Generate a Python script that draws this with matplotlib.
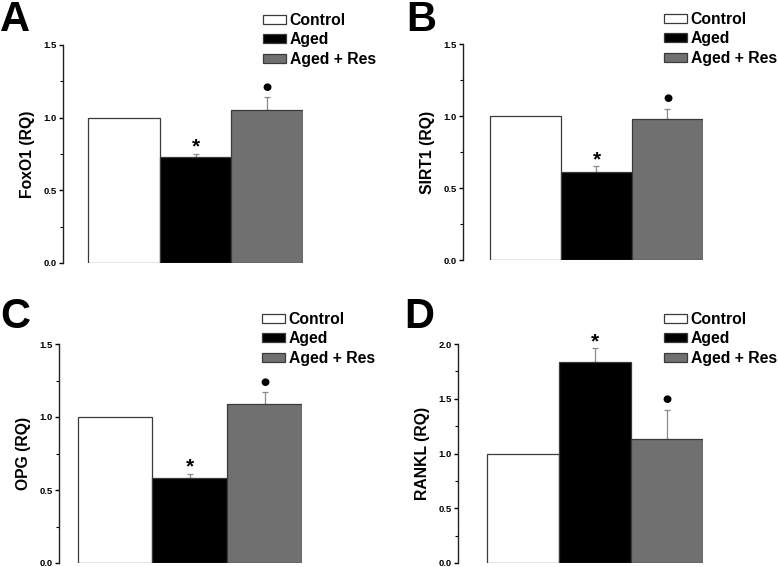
import numpy as np
import matplotlib.pyplot as plt
from matplotlib.patches import Patch
from matplotlib.ticker import MultipleLocator

plt.rcParams['font.family'] = ['Liberation Sans', 'DejaVu Sans']
plt.rcParams['font.weight'] = 'bold'

# Data
groups = ["Control", "Aged", "Aged + Res"]
panels = ["A", "B", "C", "D"]
genes = ["FoxO1 (RQ)", "SIRT1 (RQ)", "OPG (RQ)", "RANKL (RQ)"]
foxo1 = [1.0, 0.73, 1.05]
foxo1_err = [0.0, 0.02, 0.09]
sirt1 = [1.0, 0.61, 0.98]
sirt1_err = [0.0, 0.04, 0.07]
opg = [1.0, 0.58, 1.09]
opg_err = [0.0, 0.03, 0.08]
rankl = [1.0, 1.84, 1.13]
rankl_err = [0.0, 0.12, 0.27]
marks = ["", "*", "\u25CF"]
ymax = [1.5, 1.5, 1.5, 2.0]

values = [foxo1, sirt1, opg, rankl]
errors = [foxo1_err, sirt1_err, opg_err, rankl_err]

colors = ["white", "black", "#707070"]
W, H = 778, 567

# axes boxes in pixels: left, right, top, bottom; gap = left offset of first bar (bar units)
boxes = [(63, 303, 45, 263), (463, 703, 44, 260), (59, 302, 344, 563), (458, 703, 344, 563)]
gaps = [0.35, 0.38, 0.25, 0.41]
legend_xy = [(263, 13), (664, 12), (262, 312), (664, 312)]
letter_xy = [(0, 31), (406, 31), (0, 328), (404, 328)]

fig = plt.figure(figsize=(W / 100, H / 100), dpi=100)

for i in range(4):
    l, r, t, b = boxes[i]
    ax = fig.add_axes([l / W, 1 - b / H, (r - l) / W, (b - t) / H])
    x = np.arange(3)
    ax.bar(x, values[i], width=1.0, align="edge", color=colors,
           edgecolor="#3a3a3a", linewidth=0.9, zorder=2)
    ax.errorbar(x[1:] + 0.5, values[i][1:], yerr=[[0, 0], errors[i][1:]],
                fmt="none", ecolor="#8a8a8a", elinewidth=0.9, capsize=2,
                capthick=0.9, zorder=1)
    top = np.array(values[i]) + np.array(errors[i])
    # significance star above aged, dot above aged + res
    ax.annotate(marks[1], (1.5, top[1]), xytext=(0, 1), textcoords="offset points",
                ha="center", va="baseline", fontsize=15, fontweight="bold")
    ax.annotate(marks[2], (2.5, top[2]), xytext=(0, 7.5), textcoords="offset points",
                ha="center", va="center", fontsize=7.5, family="DejaVu Sans")
    ax.set_xlim(-gaps[i], 3)
    ax.set_ylim(0, ymax[i])
    ax.yaxis.set_major_locator(MultipleLocator(0.5))
    ax.yaxis.set_minor_locator(MultipleLocator(0.25))
    ax.set_yticklabels([f"{v:.1f}" for v in ax.get_yticks()])
    ax.tick_params(axis="y", which="major", length=3, width=1, labelsize=6.8, pad=1.5)
    ax.tick_params(axis="y", which="minor", length=2, width=0.8)
    ax.set_xticks([])
    for s in ["top", "right", "bottom"]:
        ax.spines[s].set_visible(False)
    ax.spines["left"].set_linewidth(1.0)
    ax.spines["left"].set_color("#202020")
    ax.set_ylabel(genes[i], fontsize=11.3, fontweight="bold", labelpad=6)

    handles = [Patch(facecolor=c, edgecolor="#3a3a3a", linewidth=0.9) for c in colors]
    lx, ly = legend_xy[i]
    fig.legend(handles, groups, loc="upper left",
               bbox_to_anchor=(lx / W, 1 - ly / H), frameon=False,
               prop={"size": 11.3, "weight": "bold"}, handlelength=1.45,
               handleheight=0.5, handletextpad=0.25, labelspacing=0.28,
               borderpad=0, borderaxespad=0)

    fx, fy = letter_xy[i]
    fig.text(fx / W, 1 - fy / H, panels[i], fontsize=30, fontweight="bold",
             ha="left", va="baseline")

fig.savefig("out.png", dpi=100)
